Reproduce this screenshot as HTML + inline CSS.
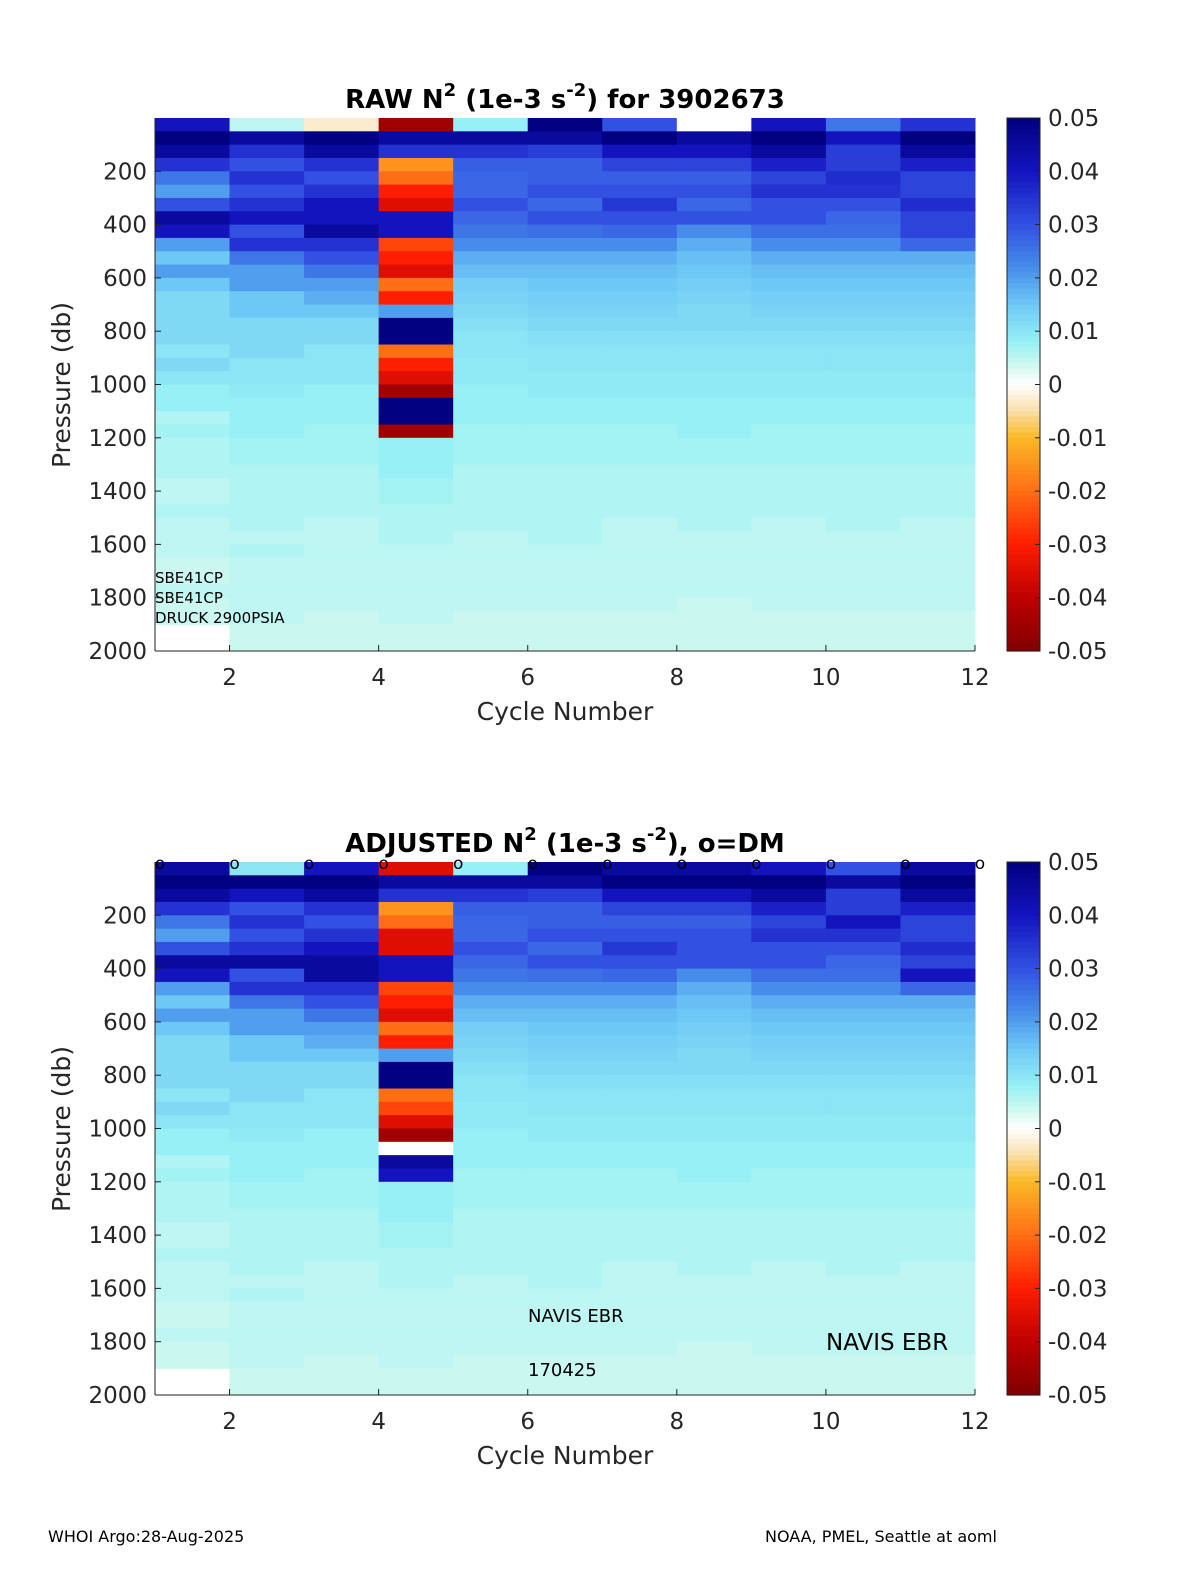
<!DOCTYPE html>
<html><head><meta charset="utf-8">
<style>
html,body{margin:0;padding:0;background:#fff;}
svg{display:block;font-family:"DejaVu Sans","Liberation Sans",sans-serif;}
</style></head>
<body>
<svg id="fig" width="1200" height="1575" viewBox="0 0 1200 1575" xmlns="http://www.w3.org/2000/svg"></svg>
<script>
const cycleTicks=[2,4,6,8,10,12];
const pressureTicks=[200,400,600,800,1000,1200,1400,1600,1800,2000];
const colorbarTicks=[0.05,0.04,0.03,0.02,0.01,0,-0.01,-0.02,-0.03,-0.04,-0.05];
const binSize=50;
const dmCycles=[1,2,3,4,5,6,7,8,9,10,11,12];
const rawN2=[
[.04,.05,.045,.035,.025,.02,.03,.045,.04,.02,.015,.02,.015,.012,.012,.012,.012,.01,.012,.01,.008,.008,.006,.007,.006,.006,.006,.005,.005,.006,.005,.005,.005,.004,.004,.005,.004,.004,null,null],
[.005,.045,.035,.03,.035,.03,.035,.04,.03,.035,.025,.02,.02,.015,.015,.012,.012,.012,.01,.01,.009,.008,.008,.008,.007,.007,.006,.006,.006,.006,.006,.005,.006,.005,.005,.005,.005,.005,.004,.004],
[-.003,.05,.045,.035,.03,.035,.04,.04,.045,.035,.03,.025,.02,.018,.015,.012,.012,.01,.01,.01,.008,.008,.008,.007,.007,.007,.006,.006,.006,.006,.005,.005,.005,.005,.005,.005,.005,.004,.004,.004],
[-.045,.045,.035,-.015,-.02,-.03,-.035,.04,.04,-.025,-.03,-.035,-.02,-.03,.02,.05,.05,-.02,-.03,-.035,-.045,.05,.05,-.045,.008,.008,.008,.007,.007,.006,.006,.006,.005,.005,.005,.005,.005,.005,.004,.004],
[.008,.045,.035,.028,.027,.027,.03,.027,.025,.022,.018,.016,.014,.013,.012,.011,.01,.01,.009,.009,.008,.008,.008,.007,.007,.007,.006,.006,.006,.006,.006,.005,.005,.005,.005,.005,.005,.004,.004,.004],
[.05,.045,.033,.028,.028,.03,.027,.03,.026,.022,.018,.016,.015,.014,.013,.012,.011,.01,.01,.009,.009,.008,.008,.007,.007,.007,.006,.006,.006,.006,.006,.006,.005,.005,.005,.005,.005,.004,.004,.004],
[.03,.05,.04,.032,.028,.03,.034,.03,.027,.022,.018,.016,.015,.014,.013,.012,.011,.01,.01,.009,.009,.008,.008,.007,.007,.007,.006,.006,.006,.006,.005,.005,.005,.005,.005,.005,.005,.004,.004,.004],
[.0,.045,.04,.032,.028,.03,.027,.03,.022,.018,.016,.015,.014,.013,.012,.012,.011,.01,.01,.009,.009,.008,.008,.008,.007,.007,.006,.006,.006,.006,.006,.005,.005,.005,.005,.005,.004,.004,.004,.004],
[.04,.05,.045,.038,.032,.035,.03,.03,.026,.022,.018,.016,.015,.014,.013,.012,.011,.01,.01,.009,.009,.008,.008,.007,.007,.007,.006,.006,.006,.006,.005,.005,.005,.005,.005,.005,.005,.004,.004,.004],
[.025,.04,.033,.033,.036,.035,.03,.027,.026,.022,.018,.016,.015,.014,.013,.012,.011,.01,.01,.009,.009,.008,.008,.007,.007,.007,.006,.006,.006,.006,.006,.005,.005,.005,.005,.005,.005,.004,.004,.004],
[.035,.05,.045,.038,.032,.032,.036,.032,.032,.027,.018,.016,.015,.014,.013,.012,.011,.01,.01,.009,.009,.008,.008,.007,.007,.007,.006,.006,.006,.006,.005,.005,.005,.005,.005,.005,.005,.004,.004,.004]
];
const adjN2=[
[.045,.05,.045,.035,.025,.02,.03,.045,.04,.02,.015,.02,.015,.012,.012,.012,.012,.01,.012,.01,.008,.008,.006,.007,.006,.006,.006,.005,.005,.006,.005,.005,.005,.004,.004,.005,.004,.004,null,null],
[.01,.05,.04,.03,.035,.03,.035,.045,.03,.035,.025,.02,.02,.015,.015,.012,.012,.012,.01,.01,.009,.008,.008,.008,.007,.007,.006,.006,.006,.006,.006,.005,.006,.005,.005,.005,.005,.005,.004,.004],
[.04,.05,.045,.035,.03,.035,.04,.045,.045,.035,.03,.025,.02,.018,.015,.012,.012,.01,.01,.01,.008,.008,.008,.007,.007,.007,.006,.006,.006,.006,.005,.005,.005,.005,.005,.005,.005,.004,.004,.004],
[-.035,.045,.035,-.015,-.02,-.035,-.035,.04,.04,-.025,-.03,-.035,-.02,-.03,.02,.05,.05,-.02,-.025,-.035,-.045,.0,.045,.04,.008,.008,.008,.007,.007,.006,.006,.006,.005,.005,.005,.005,.005,.005,.004,.004],
[.008,.045,.035,.028,.027,.027,.03,.027,.025,.022,.018,.016,.014,.013,.012,.011,.01,.01,.009,.009,.008,.008,.008,.007,.007,.007,.006,.006,.006,.006,.006,.005,.005,.005,.005,.005,.005,.004,.004,.004],
[.05,.045,.033,.028,.028,.03,.027,.03,.026,.022,.018,.016,.015,.014,.013,.012,.011,.01,.01,.009,.009,.008,.008,.007,.007,.007,.006,.006,.006,.006,.006,.006,.005,.005,.005,.005,.005,.004,.004,.004],
[.045,.05,.04,.032,.028,.03,.034,.03,.027,.022,.018,.016,.015,.014,.013,.012,.011,.01,.01,.009,.009,.008,.008,.007,.007,.007,.006,.006,.006,.006,.005,.005,.005,.005,.005,.005,.005,.004,.004,.004],
[.045,.05,.04,.032,.028,.03,.03,.03,.022,.018,.016,.015,.014,.013,.012,.012,.011,.01,.01,.009,.009,.008,.008,.008,.007,.007,.006,.006,.006,.006,.006,.005,.005,.005,.005,.005,.004,.004,.004,.004],
[.04,.05,.045,.038,.032,.035,.03,.03,.026,.022,.018,.016,.015,.014,.013,.012,.011,.01,.01,.009,.009,.008,.008,.007,.007,.007,.006,.006,.006,.006,.005,.005,.005,.005,.005,.005,.005,.004,.004,.004],
[.03,.045,.033,.033,.04,.035,.03,.027,.026,.022,.018,.016,.015,.014,.013,.012,.011,.01,.01,.009,.009,.008,.008,.007,.007,.007,.006,.006,.006,.006,.006,.005,.005,.005,.005,.005,.005,.004,.004,.004],
[.045,.05,.045,.038,.032,.032,.036,.032,.04,.027,.018,.016,.015,.014,.013,.012,.011,.01,.01,.009,.009,.008,.008,.007,.007,.007,.006,.006,.006,.006,.005,.005,.005,.005,.005,.005,.005,.004,.004,.004]
];

const NS='http://www.w3.org/2000/svg';
const svg=document.getElementById('fig');
function mk(tag,attrs,parent){const e=document.createElementNS(NS,tag);for(const k in attrs)e.setAttribute(k,attrs[k]);(parent||svg).appendChild(e);return e;}
const stops=[[-0.05,[128,0,0]],[-0.04,[190,0,0]],[-0.03,[255,30,0]],[-0.02,[255,110,20]],[-0.01,[250,185,40]],[-0.004,[250,230,190]],[0,[255,255,255]],[0.003,[215,250,240]],[0.008,[150,240,245]],[0.015,[110,200,245]],[0.022,[70,140,235]],[0.03,[50,80,225]],[0.04,[20,20,190]],[0.05,[0,0,128]]];
function cmap(v){v=Math.max(-0.05,Math.min(0.05,v));for(let i=0;i<stops.length-1;i++){const a=stops[i],b=stops[i+1];if(v<=b[0]){const t=(v-a[0])/(b[0]-a[0]);const c=a[1].map((x,k)=>Math.round(x+(b[1][k]-x)*t));return 'rgb('+c.join(',')+')';}}return 'rgb(0,0,128)';}

const X0=155,X1=975;
function xs(c){return X0+(c-1)*(X1-X0)/11;}

function panel(top,data,title,name,showDM){
  const Y0=top,Y1=top+533;
  const ys=p=>Y0+p*(Y1-Y0)/2000;
  const g=mk('g',{});
  
  
  data.forEach((col,i)=>{col.forEach((v,j)=>{if(v===null)return;
    const r=mk('rect',{x:xs(i+1),y:ys(j*binSize),width:xs(i+2)-xs(i+1)+0.5,height:ys((j+1)*binSize)-ys(j*binSize)+0.5,fill:cmap(v)},g);
    
    
  });});
  mk('line',{x1:X0,y1:Y0,x2:X0,y2:Y1,stroke:'#222','stroke-width':1},g);
  mk('line',{x1:X0,y1:Y1,x2:X1,y2:Y1,stroke:'#222','stroke-width':1},g);
  cycleTicks.forEach(c=>{mk('line',{x1:xs(c),y1:Y1,x2:xs(c),y2:Y1-6,stroke:'#222'},g);
    const t=mk('text',{x:xs(c),y:Y1+34,'font-size':23,'text-anchor':'middle',fill:'#262626'},g);t.textContent=c;
    });
  pressureTicks.forEach(p=>{mk('line',{x1:X0,y1:ys(p),x2:X0+6,y2:ys(p),stroke:'#222'},g);
    const t=mk('text',{x:X0-8,y:ys(p)+8,'font-size':23,'text-anchor':'end',fill:'#262626'},g);t.textContent=p;
    });
  const xl=mk('text',{x:565,y:Y1+69,'font-size':25,'text-anchor':'middle',fill:'#262626'},g);xl.textContent='Cycle Number';
  
  const yl=mk('text',{x:0,y:0,'font-size':25,'text-anchor':'middle',fill:'#262626',transform:'translate(70,'+(Y0+267)+') rotate(-90)'},g);yl.textContent='Pressure (db)';
  
  const tt=mk('text',{x:565,y:Y0-10,'font-size':26,'font-weight':'bold','text-anchor':'middle',fill:'#000'},g);
  tt.innerHTML=title;
  
  const CX=1007,CW=33;const cb=mk('g',{},g);
  
  for(let k=0;k<100;k++){const v=0.05-k*0.001;mk('rect',{x:CX,y:Y0+k*(Y1-Y0)/100,width:CW,height:(Y1-Y0)/100+0.6,fill:cmap(v-0.0005)},cb);}
  mk('rect',{x:CX,y:Y0,width:CW,height:Y1-Y0,fill:'none',stroke:'#222'},cb);
  colorbarTicks.forEach(v=>{const y=Y0+(0.05-v)/0.1*(Y1-Y0);
    mk('line',{x1:CX+CW-5,y1:y,x2:CX+CW,y2:y,stroke:'#222'},cb);
    const t=mk('text',{x:CX+CW+8,y:y+8,'font-size':23,fill:'#262626'},cb);t.textContent=(v===0?'0':String(v));
    });
  if(showDM){dmCycles.forEach(c=>{const t=mk('text',{x:xs(c)+5,y:Y0+7,'font-size':17,'text-anchor':'middle',fill:'#000'},g);t.textContent='o';
    });}
  return {ys,Y0,Y1};
}
panel(118,rawN2,'RAW N<tspan dy="-12" font-size="18">2</tspan><tspan dy="12"> (1e-3 s</tspan><tspan dy="-12" font-size="18">-2</tspan><tspan dy="12">) for 3902673</tspan>','raw-n2-panel',false);
panel(862,adjN2,'ADJUSTED N<tspan dy="-12" font-size="18">2</tspan><tspan dy="12"> (1e-3 s</tspan><tspan dy="-12" font-size="18">-2</tspan><tspan dy="12">), o=DM</tspan>','adjusted-n2-panel',true);
function label(x,y,s,fs,name){const t=mk('text',{x:x,y:y,'font-size':fs,fill:'#000'});t.textContent=s;}
label(155,583,'SBE41CP',15,'sensor-label');
label(155,603,'SBE41CP',15,'sensor-label');
label(155,623,'DRUCK 2900PSIA',15,'sensor-label');
label(528,1322,'NAVIS EBR',18,'float-type-label');
label(528,1376,'170425',18,'float-date-label');
label(826,1350,'NAVIS EBR',23,'float-type-label-large');
label(48,1542,'WHOI Argo:28-Aug-2025',16,'footer-left');
label(765,1542,'NOAA, PMEL, Seattle at aoml',16,'footer-right');
</script>
</body></html>
